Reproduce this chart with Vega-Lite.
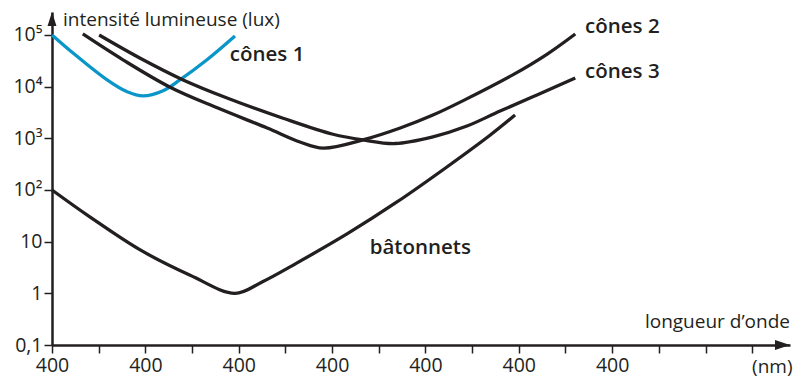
{
  "$schema": "https://vega.github.io/schema/vega-lite/v6.json",
  "width": 738,
  "height": 333,
  "autosize": {"type": "none"},
  "padding": {"left": 52, "top": 12, "right": 9, "bottom": 35},
  "background": "white",
  "config": {
    "view": {"stroke": null},
    "text": {"font": "Open Sans", "color": "#231f20"}
  },
  "datasets": {
    "curves": [
      {"serie": "cônes 1", "x": 0, "lux": 100000},
      {"serie": "cônes 1", "x": 0.45, "lux": 44700},
      {"serie": "cônes 1", "x": 1.18, "lux": 13500},
      {"serie": "cônes 1", "x": 1.61, "lux": 7940},
      {"serie": "cônes 1", "x": 1.95, "lux": 6610},
      {"serie": "cônes 1", "x": 2.38, "lux": 8320},
      {"serie": "cônes 1", "x": 2.74, "lux": 13500},
      {"serie": "cônes 1", "x": 3.32, "lux": 33100},
      {"serie": "cônes 1", "x": 3.92, "lux": 95500},
      {"serie": "cônes 2", "x": 0.66, "lux": 104700},
      {"serie": "cônes 2", "x": 1.52, "lux": 33100},
      {"serie": "cônes 2", "x": 2.53, "lux": 9770},
      {"serie": "cônes 2", "x": 3.54, "lux": 3890},
      {"serie": "cônes 2", "x": 4.61, "lux": 1585},
      {"serie": "cônes 2", "x": 5.31, "lux": 851},
      {"serie": "cônes 2", "x": 5.81, "lux": 646},
      {"serie": "cônes 2", "x": 6.66, "lux": 933},
      {"serie": "cônes 2", "x": 7.46, "lux": 1585},
      {"serie": "cônes 2", "x": 8.16, "lux": 2820},
      {"serie": "cônes 2", "x": 8.81, "lux": 5370},
      {"serie": "cônes 2", "x": 9.88, "lux": 17100},
      {"serie": "cônes 2", "x": 10.61, "lux": 42800},
      {"serie": "cônes 2", "x": 11.21, "lux": 104700},
      {"serie": "cônes 3", "x": 1.01, "lux": 100000},
      {"serie": "cônes 3", "x": 1.89, "lux": 35500},
      {"serie": "cônes 3", "x": 2.81, "lux": 13500},
      {"serie": "cônes 3", "x": 3.75, "lux": 6030},
      {"serie": "cônes 3", "x": 4.95, "lux": 2450},
      {"serie": "cônes 3", "x": 6.02, "lux": 1200},
      {"serie": "cônes 3", "x": 6.66, "lux": 933},
      {"serie": "cônes 3", "x": 7.35, "lux": 794},
      {"serie": "cônes 3", "x": 8.16, "lux": 1070},
      {"serie": "cônes 3", "x": 8.89, "lux": 1730},
      {"serie": "cônes 3", "x": 9.6, "lux": 3380},
      {"serie": "cônes 3", "x": 10.39, "lux": 6890},
      {"serie": "cônes 3", "x": 11.21, "lux": 14700},
      {"serie": "bâtonnets", "x": 0, "lux": 100},
      {"serie": "bâtonnets", "x": 0.81, "lux": 30.2},
      {"serie": "bâtonnets", "x": 1.89, "lux": 6.92},
      {"serie": "bâtonnets", "x": 2.96, "lux": 2.24},
      {"serie": "bâtonnets", "x": 3.92, "lux": 1},
      {"serie": "bâtonnets", "x": 4.5, "lux": 1.66},
      {"serie": "bâtonnets", "x": 5.25, "lux": 3.89},
      {"serie": "bâtonnets", "x": 6.32, "lux": 14.1},
      {"serie": "bâtonnets", "x": 7.39, "lux": 58.6},
      {"serie": "bâtonnets", "x": 8.46, "lux": 279},
      {"serie": "bâtonnets", "x": 9.39, "lux": 1159},
      {"serie": "bâtonnets", "x": 9.92, "lux": 2825}
    ],
    "curveLabels": [
      {"text": "cônes 1", "x": 3.81, "lux": 40700},
      {"text": "cônes 2", "x": 11.42, "lux": 142900},
      {"text": "cônes 3", "x": 11.42, "lux": 19200}
    ]
  },
  "layer": [
    {
      "data": {"name": "curves"},
      "mark": {"type": "line", "interpolate": "catmull-rom", "strokeWidth": 3.3, "strokeCap": "butt"},
      "encoding": {
        "x": {
          "field": "x", "type": "quantitative",
          "scale": {"domain": [0, 15.81], "nice": false, "zero": false},
          "axis": {
            "title": null, "values": [0,1,2,3,4,5,6,7,8,9,10,11,12,13,14,15],
            "labelExpr": "datum.value <= 12 && datum.value % 2 == 0 ? '400' : ''",
            "domainColor": "#231f20", "domainWidth": 2.5,
            "tickColor": "#231f20", "tickWidth": 1.5, "tickSize": 8,
            "labelFont": "Open Sans", "labelFontSize": 19.5, "labelColor": "#231f20",
            "labelPadding": 3, "labelFlush": false, "labelOverlap": false, "grid": false
          }
        },
        "y": {
          "field": "lux", "type": "quantitative",
          "scale": {"type": "log", "domain": [0.1, 278600], "nice": false, "zero": false},
          "axis": {
            "title": null, "values": [0.1, 1, 10, 100, 1000, 10000, 100000],
            "labelExpr": "datum.value == 0.1 ? '0,1' : datum.value == 1 ? '1' : datum.value == 10 ? '10' : datum.value == 100 ? '10²' : datum.value == 1000 ? '10³' : datum.value == 10000 ? '10⁴' : '10⁵'",
            "domainColor": "#231f20", "domainWidth": 2.5,
            "tickColor": "#231f20", "tickWidth": 1.5, "tickSize": 8,
            "labelFont": "Open Sans", "labelFontSize": 19.5, "labelColor": "#231f20",
            "labelPadding": 2, "labelFlush": false, "labelOverlap": false, "grid": false
          }
        },
        "color": {
          "field": "serie", "type": "nominal",
          "scale": {"domain": ["cônes 1", "cônes 2", "cônes 3", "bâtonnets"], "range": ["#0a96c8", "#231f20", "#231f20", "#231f20"]},
          "legend": null
        }
      }
    },
    {
      "data": {"values": [{"x": 0, "lux": 278600, "dir": "up"}]},
      "mark": {"type": "point", "shape": "M0,0 L-0.32,1 L0.32,1 Z", "size": 784, "filled": true, "color": "#231f20", "opacity": 1},
      "encoding": {"x": {"field": "x", "type": "quantitative"}, "y": {"field": "lux", "type": "quantitative"}}
    },
    {
      "data": {"values": [{"x": 15.81, "lux": 0.1, "dir": "right"}]},
      "mark": {"type": "point", "shape": "M0,0 L-1,-0.33 L-1,0.33 Z", "size": 900, "filled": true, "color": "#231f20", "opacity": 1},
      "encoding": {"x": {"field": "x", "type": "quantitative"}, "y": {"field": "lux", "type": "quantitative"}}
    },
    {
      "data": {"name": "curveLabels"},
      "mark": {"type": "text", "align": "left", "baseline": "middle", "fontSize": 20.5, "fontWeight": 600},
      "encoding": {"x": {"field": "x", "type": "quantitative"}, "y": {"field": "lux", "type": "quantitative"}, "text": {"field": "text"}}
    },
    {
      "data": {"values": [{"text": "bâtonnets", "x": 7.89, "lux": 7.53}]},
      "mark": {"type": "text", "align": "center", "baseline": "middle", "fontSize": 20.5, "fontWeight": 600},
      "encoding": {"x": {"field": "x", "type": "quantitative"}, "y": {"field": "lux", "type": "quantitative"}, "text": {"field": "text"}}
    },
    {
      "data": {"values": [{"text": "intensité lumineuse (lux)", "x": 0.236, "lux": 195000}]},
      "mark": {"type": "text", "align": "left", "baseline": "middle", "fontSize": 19},
      "encoding": {"x": {"field": "x", "type": "quantitative"}, "y": {"field": "lux", "type": "quantitative"}, "text": {"field": "text"}}
    },
    {
      "data": {"values": [{"text": "longueur d’onde", "x": 15.81, "lux": 0.279}]},
      "mark": {"type": "text", "align": "right", "baseline": "middle", "fontSize": 19},
      "encoding": {"x": {"field": "x", "type": "quantitative"}, "y": {"field": "lux", "type": "quantitative"}, "text": {"field": "text"}}
    },
    {
      "data": {"values": [{"text": "(nm)", "x": 15.43, "lux": 0.038}]},
      "mark": {"type": "text", "align": "center", "baseline": "middle", "fontSize": 19},
      "encoding": {"x": {"field": "x", "type": "quantitative"}, "y": {"field": "lux", "type": "quantitative"}, "text": {"field": "text"}}
    }
  ]
}
